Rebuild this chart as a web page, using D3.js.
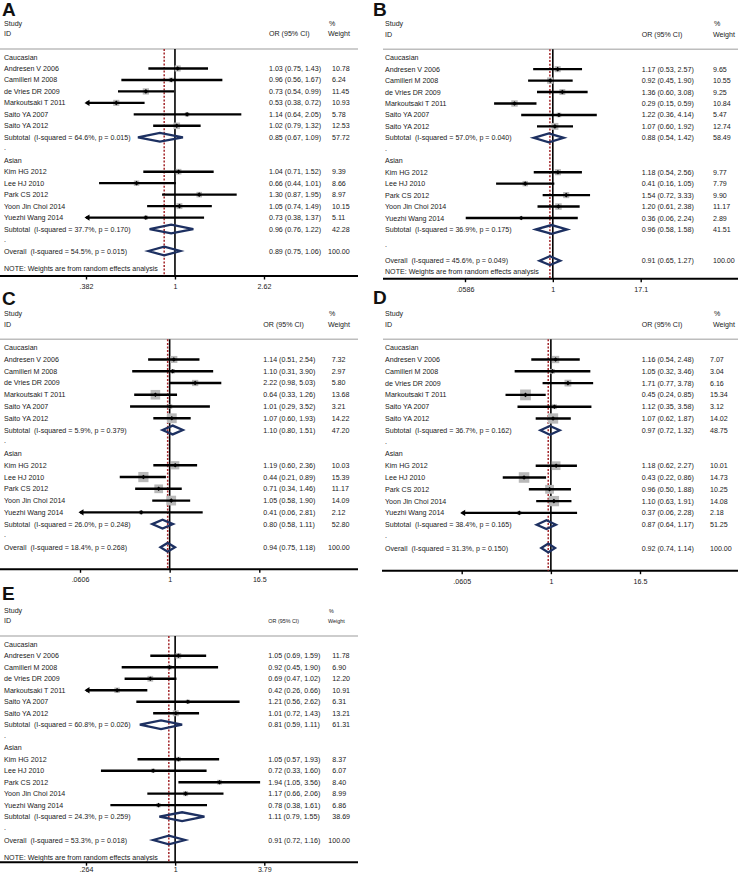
<!DOCTYPE html>
<html><head><meta charset="utf-8">
<script src="https://cdn.jsdelivr.net/npm/d3@7"></script>
<style>
body{margin:0;background:#fff}
svg{display:block}
text{font-family:"Liberation Sans",Arial,sans-serif;fill:#1a1a1a;white-space:pre}
</style>
</head><body>
<svg id="c" width="740" height="875"></svg>
<script>
// ---------------- DATA ----------------
const studies = ["Andresen V 2006","Camilleri M 2008","de Vries DR 2009","Markoutsaki T 2011","Saito YA 2007","Saito YA 2012",
                 "Kim HG 2012","Lee HJ 2010","Park CS 2012","Yoon Jin Choi 2014","Yuezhi Wang 2014"];
const groupNames = ["Caucasian","Asian"];
const panelNames = ["A","B","C","D","E"];

// [OR, lower, upper, weight]
const estA = [[1.03,0.75,1.43,10.78],[0.96,0.56,1.67,6.24],[0.73,0.54,0.99,11.45],[0.53,0.38,0.72,10.93],[1.14,0.64,2.05,5.78],[1.02,0.79,1.32,12.53],
              [1.04,0.71,1.52,9.39],[0.66,0.44,1.01,8.66],[1.30,0.87,1.95,8.97],[1.05,0.74,1.49,10.15],[0.73,0.38,1.37,5.11]];
const estB = [[1.17,0.53,2.57,9.65],[0.92,0.45,1.90,10.55],[1.36,0.60,3.08,9.25],[0.29,0.15,0.59,10.84],[1.22,0.36,4.14,5.47],[1.07,0.60,1.92,12.74],
              [1.18,0.54,2.56,9.77],[0.41,0.16,1.05,7.79],[1.54,0.72,3.33,9.90],[1.20,0.61,2.38,11.17],[0.36,0.06,2.24,2.89]];
const estC = [[1.14,0.51,2.54,7.32],[1.10,0.31,3.90,2.97],[2.22,0.98,5.03,5.80],[0.64,0.33,1.26,13.68],[1.01,0.29,3.52,3.21],[1.07,0.60,1.93,14.22],
              [1.19,0.60,2.36,10.03],[0.44,0.21,0.89,15.39],[0.71,0.34,1.46,11.17],[1.05,0.58,1.90,14.09],[0.41,0.06,2.81,2.12]];
const estD = [[1.16,0.54,2.48,7.07],[1.05,0.32,3.46,3.04],[1.71,0.77,3.78,6.16],[0.45,0.24,0.85,15.34],[1.12,0.35,3.58,3.12],[1.07,0.62,1.87,14.02],
              [1.18,0.62,2.27,10.01],[0.43,0.22,0.86,14.73],[0.96,0.50,1.88,10.25],[1.10,0.63,1.91,14.08],[0.37,0.06,2.28,2.18]];
const estE = [[1.05,0.69,1.59,11.78],[0.92,0.45,1.90,6.90],[0.69,0.47,1.02,12.20],[0.42,0.26,0.66,10.91],[1.21,0.56,2.62,6.31],[1.01,0.72,1.43,13.21],
              [1.05,0.57,1.93,8.37],[0.72,0.33,1.60,6.07],[1.94,1.05,3.56,8.40],[1.17,0.66,2.06,8.99],[0.78,0.38,1.61,6.86]];

// subtotals: [OR, lower, upper, weight, I-squared, p]
const subA = [[0.85,0.67,1.09,57.72,64.6,0.015],[0.96,0.76,1.22,42.28,37.7,0.170]];
const subB = [[0.88,0.54,1.42,58.49,57.0,0.040],[0.96,0.58,1.58,41.51,36.9,0.175]];
const subC = [[1.10,0.80,1.51,47.20,5.9,0.379],[0.80,0.58,1.11,52.80,26.0,0.248]];
const subD = [[0.97,0.72,1.32,48.75,36.7,0.162],[0.87,0.64,1.17,51.25,38.4,0.165]];
const subE = [[0.81,0.59,1.11,61.31,60.8,0.026],[1.11,0.79,1.55,38.69,24.3,0.259]];

// overall: [OR, lower, upper, weight, I-squared, p]
const allA = [0.89,0.75,1.06,100.00,54.5,0.015];
const allB = [0.91,0.65,1.27,100.00,45.6,0.049];
const allC = [0.94,0.75,1.18,100.00,18.4,0.268];
const allD = [0.92,0.74,1.14,100.00,31.3,0.150];
const allE = [0.91,0.72,1.16,100.00,53.3,0.018];

// axis ticks
const ticksA = [0.382,1,2.62];
const ticksB = [0.0586,1,17.1];
const ticksC = [0.0606,1,16.5];
const ticksD = [0.0605,1,16.5];
const ticksE = [0.264,1,3.79];

const showNote = [true,true,false,false,true];
const noteText = "NOTE: Weights are from random effects analysis";

// ---------------- LAYOUT (style) ----------------
const layout = [
 {tx:2,   title:16,  sep:49,    y0:57,    step:11.47, overall:251,   note:268.5, axis:276,   tp:4.5, lx:4,   orx:269,   wx:332,   wox:328,   whx:328, hx0:0,   hx1:358, ax0:0,   ax1:358, r0:86,    r1:264,   k:1.85, hfs:7.1},
 {tx:373, title:16,  sep:49.3,  y0:57.7,  step:11.45, overall:260.7, note:271.7, axis:278.7, tp:4.5, lx:385, orx:641.7, wx:713,   wox:713,   whx:713, hx0:383, hx1:738, ax0:383, ax1:738, r0:465,   r1:640.7, k:1.95, hfs:7.1},
 {tx:2,   title:305, sep:339.3, y0:347.7, step:11.76, overall:547.3, note:0,     axis:569.3, tp:4,   lx:4,   orx:263.3, wx:331.7, wox:328,   whx:328, hx0:0,   hx1:358, ax0:0,   ax1:358, r0:80,    r1:259.3, k:2.6,  hfs:7.1},
 {tx:373, title:304, sep:339.3, y0:347.7, step:11.8,  overall:548,   note:0,     axis:570.7, tp:4.5, lx:385, orx:641.7, wx:710,   wox:710,   whx:713, hx0:383, hx1:738, ax0:382, ax1:738, r0:461.7, r1:640,   k:2.75, hfs:7.1},
 {tx:2,   title:600, sep:636,   y0:644.3, step:11.49, overall:840,   note:857,   axis:862.2, tp:1.5, lx:4,   orx:268.3, wx:332.3, wox:328.3, whx:328, hx0:0,   hx1:358, ax0:0,   ax1:358, r0:86,    r1:264.3, k:1.65, hfs:5.4}
];

const FS = 7.1;
const NAVY = "#1d3061";
const RED = "#a3262a";

const svg = d3.select("#c");
const f2 = d3.format(".2f"), f1 = d3.format(".1f"), f3 = d3.format(".3f");
const ciText = d => `${f2(d[0])} (${f2(d[1])}, ${f2(d[2])})`;
const hetText = (lab, d) => `${lab}  (I-squared = ${f1(d[4])}%, p = ${f3(d[5])})`;

const panels = [
 {est:estA, sub:subA, all:allA, ticks:ticksA},
 {est:estB, sub:subB, all:allB, ticks:ticksB},
 {est:estC, sub:subC, all:allC, ticks:ticksC},
 {est:estD, sub:subD, all:allD, ticks:ticksD},
 {est:estE, sub:subE, all:allE, ticks:ticksE}
];

panels.forEach((P, pi) => drawPanel(P, layout[pi], pi));

function txt(g, x, y, s, fs) {
  return g.append("text").attr("x", x).attr("y", y).attr("font-size", fs || FS).text(s);
}

function drawPanel(P, L, pi) {
  const g = svg.append("g");
  const x = d3.scaleLog().domain([P.ticks[0], P.ticks[2]]).range([L.r0, L.r1]);
  const [d0, d1] = x.domain();
  const base = y => y + 2.5;
  const rowY = i => L.y0 + i * L.step;

  // title
  g.append("text").attr("x", L.tx).attr("y", L.title).attr("font-size", 19).attr("font-weight", "bold")
    .style("fill", "#111").text(panelNames[pi]);

  // headers
  txt(g, L.lx, base(L.sep - 26), "Study");
  txt(g, L.lx, base(L.sep - 15.3), "ID");
  txt(g, L.orx, base(L.sep - 15.3), "OR (95% CI)", L.hfs);
  txt(g, L.whx + 1, base(L.sep - 26), "%", L.hfs);
  txt(g, L.whx, base(L.sep - 15.3), "Weight", L.hfs);

  // header separator
  g.append("line").attr("x1", L.hx0).attr("x2", L.hx1).attr("y1", L.sep).attr("y2", L.sep)
    .attr("stroke", "#bdbdbd").attr("stroke-width", 1.6);

  // axis
  const ax = g.append("g").attr("transform", `translate(0,${L.axis})`)
    .call(d3.axisBottom(x).tickValues(P.ticks).tickSize(3.5).tickPadding(L.tp)
      .tickFormat(v => String(v).replace(/^0\./, ".")));
  ax.select(".domain").remove();
  ax.attr("font-size", FS).attr("font-family", '"Liberation Sans",Arial,sans-serif');
  ax.selectAll(".tick line").attr("stroke", "#000").attr("stroke-width", 1.4);
  ax.selectAll(".tick text").style("fill", "#1a1a1a");
  g.append("line").attr("x1", L.ax0).attr("x2", L.ax1).attr("y1", L.axis).attr("y2", L.axis)
    .attr("stroke", "#000").attr("stroke-width", 2);

  // null line and overall line
  g.append("line").attr("x1", x(1)).attr("x2", x(1)).attr("y1", L.sep).attr("y2", L.axis)
    .attr("stroke", "#000").attr("stroke-width", 1.6);
  g.append("line").attr("x1", x(P.all[0])).attr("x2", x(P.all[0])).attr("y1", L.sep).attr("y2", L.axis)
    .attr("stroke", RED).attr("stroke-width", 1.5).attr("stroke-dasharray", "2,1.6");

  // rows
  const studyRows = P.est.map((d, i) => ({d, label: studies[i], y: rowY(i < 6 ? i + 1 : i + 4)}));
  const groupRows = groupNames.map((n, i) => ({label: n, y: rowY(i === 0 ? 0 : 9)}));
  const subRows = P.sub.map((d, i) => ({d, y: rowY(i === 0 ? 7 : 15)}));
  const dotYs = [rowY(8), (rowY(15) + L.overall) / 2];

  groupRows.forEach(r => txt(g, L.lx, base(r.y), r.label));
  dotYs.forEach(y => txt(g, L.lx, base(y) - 1, "."));

  // boxes
  g.selectAll("rect.box").data(studyRows).join("rect").attr("class", "box")
    .attr("x", r => x(r.d[0]) - L.k * Math.sqrt(r.d[3]) / 2)
    .attr("y", r => r.y - L.k * Math.sqrt(r.d[3]) / 2)
    .attr("width", r => L.k * Math.sqrt(r.d[3]))
    .attr("height", r => L.k * Math.sqrt(r.d[3]))
    .attr("fill", "#b9b9b9");

  // CI lines
  studyRows.forEach(r => {
    const lo = Math.max(r.d[1], d0), hi = Math.min(r.d[2], d1);
    g.append("line").attr("x1", x(lo)).attr("x2", x(hi)).attr("y1", r.y).attr("y2", r.y)
      .attr("stroke", "#000").attr("stroke-width", 2.4);
    if (r.d[1] < d0) {
      const tx = x(d0) - 1.5;
      g.append("path").attr("d", `M${tx},${r.y}L${tx + 5},${r.y - 3.2}L${tx + 5},${r.y + 3.2}Z`).attr("fill", "#000");
    }
    if (r.d[2] > d1) {
      const tx = x(d1) + 1.5;
      g.append("path").attr("d", `M${tx},${r.y}L${tx - 5},${r.y - 3.2}L${tx - 5},${r.y + 3.2}Z`).attr("fill", "#000");
    }
    // point estimate marker
    const px = x(r.d[0]), s = 2.3;
    g.append("path").attr("d", `M${px - s},${r.y}L${px},${r.y - s}L${px + s},${r.y}L${px},${r.y + s}Z`).attr("fill", "#000");
    txt(g, L.lx, base(r.y), r.label);
    txt(g, L.orx, base(r.y), ciText(r.d));
    txt(g, L.wx, base(r.y), f2(r.d[3]));
  });

  // diamonds
  const diamond = (d, y) => {
    const h = 4.4;
    g.append("path")
      .attr("d", `M${x(d[1])},${y}L${x(d[0])},${y - h}L${x(d[2])},${y}L${x(d[0])},${y + h}Z`)
      .attr("fill", "none").attr("stroke", NAVY).attr("stroke-width", 2.3).attr("stroke-linejoin", "miter");
  };
  subRows.forEach(r => {
    diamond(r.d, r.y);
    txt(g, L.lx, base(r.y), hetText("Subtotal", r.d));
    txt(g, L.orx, base(r.y), ciText(r.d));
    txt(g, L.wx, base(r.y), f2(r.d[3]));
  });
  diamond(P.all, L.overall);
  txt(g, L.lx, base(L.overall), hetText("Overall", P.all));
  txt(g, L.orx, base(L.overall), ciText(P.all));
  txt(g, L.wox, base(L.overall), f2(P.all[3]));

  if (showNote[pi]) txt(g, L.lx, base(L.note), noteText);
}
</script>
</body></html>
